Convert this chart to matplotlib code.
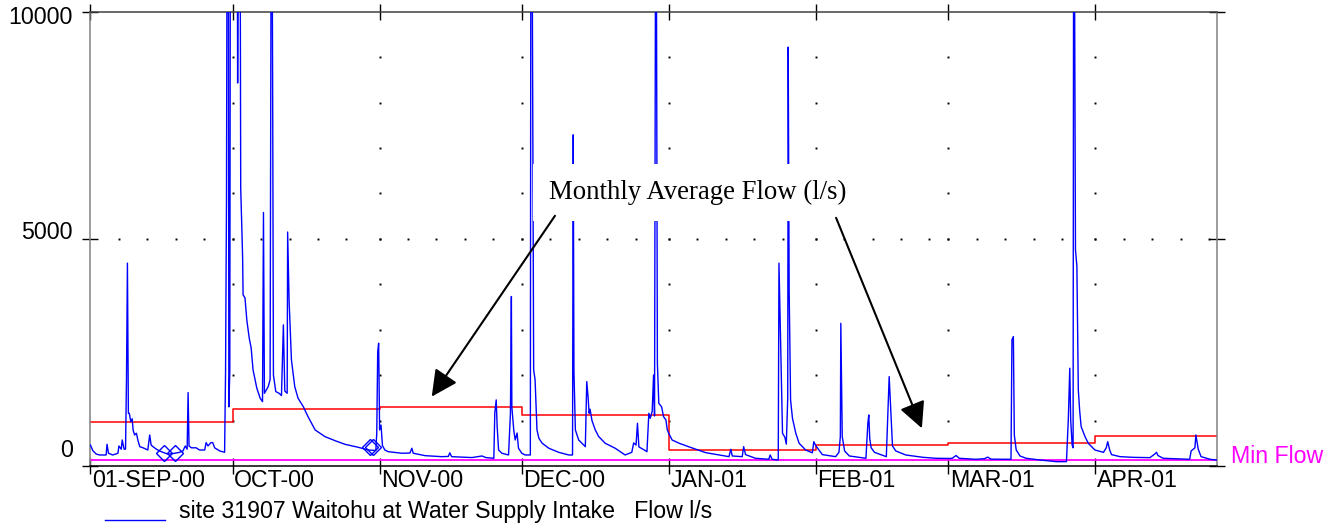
"""Waitohu at Water Supply Intake: flow record Sep 2000 - Apr 2001,
with monthly average flow steps and the minimum flow line."""

from datetime import datetime, timedelta

import matplotlib
matplotlib.use("Agg")
import matplotlib.dates as mdates
import matplotlib.pyplot as plt
import numpy as np
from matplotlib.transforms import ScaledTranslation

plt.rcParams["font.family"] = ["Liberation Sans", "DejaVu Sans"]

START = datetime(2000, 9, 1)
END_DAYS = 237.6          # record shown up to ~27-Apr-01

# --- flow record: days since 01-Sep-2000 and flow (l/s) ---
flow_days = [
    0.0, 0.5, 1.2, 1.9, 3.3, 3.5, 3.8, 4.7, 5.8, 6.0,
    6.5, 6.7, 7.1, 7.4, 7.6, 7.8, 8.0, 8.2, 8.5, 8.8,
    9.0, 9.3, 9.7, 10.0, 10.4, 11.1, 12.1, 12.5, 12.8, 13.2,
    13.9, 14.6, 15.3, 16.4, 17.8, 18.8, 19.5, 20.0, 20.4, 20.6,
    20.8, 21.3, 22.3, 23.0, 24.1, 24.4, 24.8, 25.4, 25.8, 26.2,
    27.3, 28.3, 28.5, 28.7, 28.8, 29.1, 29.2, 29.4, 29.5, 31.0,
    31.05, 31.15, 31.6, 31.7, 32.1, 32.2, 32.6, 33.0, 33.5, 33.9,
    34.3, 35.1, 35.8, 36.3, 36.5, 36.7, 37.5, 37.9, 38.1, 38.35,
    38.45, 38.6, 39.1, 39.8, 40.3, 40.7, 41.0, 41.5, 41.6, 41.9,
    42.4, 43.1, 43.8, 44.9, 45.9, 47.4, 49.5, 51.6, 53.7, 56.5,
    58.6, 60.2, 60.4, 60.6, 60.8, 61.0, 61.3, 61.6, 62.1, 62.8,
    65.7, 67.4, 67.8, 68.1, 70.6, 74.1, 75.5, 75.8, 76.2, 79.0,
    80.5, 82.6, 83.4, 85.1, 85.3, 85.6, 85.8, 86.1, 86.8, 88.2,
    88.6, 88.8, 88.9, 89.3, 89.6, 90.0, 90.3, 91.0, 91.7, 92.8,
    92.9, 93.2, 93.5, 93.8, 94.2, 94.6, 95.3, 96.7, 98.8, 100.9,
    101.7, 101.85, 102.0, 102.3, 103.0, 104.4, 104.7, 105.0, 105.2, 105.4,
    105.8, 106.5, 107.2, 108.6, 110.7, 112.8, 114.2, 114.6, 115.1, 115.4,
    115.7, 116.7, 117.4, 117.8, 118.1, 118.5, 118.8, 119.0, 119.2, 119.4,
    119.6, 119.9, 120.5, 120.9, 121.4, 121.7, 122.0, 122.7, 124.2, 126.3,
    129.8, 134.7, 135.1, 135.4, 137.5, 137.8, 138.2, 140.3, 143.1, 143.4,
    143.8, 145.1, 145.25, 145.5, 145.7, 146.0, 146.5, 146.8, 147.1, 147.2,
    147.4, 147.7, 148.1, 148.8, 149.5, 150.9, 152.3, 152.6, 153.0, 154.4,
    157.2, 157.9, 158.2, 158.3, 158.6, 159.1, 160.1, 163.6, 164.0, 164.2,
    164.4, 164.7, 165.4, 167.9, 168.2, 168.5, 168.9, 169.2, 169.9, 172.0,
    175.6, 178.4, 181.2, 181.8, 182.6, 183.3, 186.8, 188.6, 189.3, 190.0,
    194.2, 194.4, 194.7, 194.9, 195.3, 196.1, 197.4, 200.3, 203.8, 205.9,
    206.3, 206.6, 206.8, 207.1, 207.3, 207.4, 207.6, 207.8, 208.1, 208.4,
    208.7, 209.0, 209.8, 210.5, 211.9, 213.7, 214.3, 214.6, 215.0, 215.4,
    217.2, 220.0, 223.5, 224.5, 224.9, 225.2, 226.3, 231.9, 232.2, 233.0,
    233.2, 233.7, 234.3, 236.2, 237.5,
]
flow_ls = [
    460, 337, 264, 242, 242, 477, 280, 242, 280, 440,
    370, 572, 370, 370, 1892, 4465, 1160, 1160, 976, 1040,
    793, 683, 720, 572, 425, 400, 352, 683, 460, 425,
    370, 330, 300, 260, 280, 300, 330, 440, 370, 1615,
    440, 400, 400, 352, 352, 514, 440, 514, 514, 400,
    330, 301, 2040, 5860, 11000, 11000, 1300, 2100, 11000, 11000,
    8430, 11000, 11000, 6120, 4610, 3767, 3700, 3200, 2813, 2600,
    2115, 1712, 1491, 1416, 5580, 1600, 1747, 1900, 11000, 11000,
    7865, 2000, 1637, 1600, 1550, 3106, 1650, 1600, 5150, 3657,
    2335, 1747, 1491, 1306, 1086, 793, 645, 557, 477, 411,
    352, 340, 720, 2518, 2703, 793, 900, 450, 352, 315,
    280, 285, 390, 280, 227, 205, 210, 290, 205, 191,
    185, 220, 185, 169, 1160, 1454, 866, 352, 280, 242,
    1160, 3730, 1300, 793, 572, 726, 390, 280, 242, 242,
    11000, 11000, 2115, 1900, 793, 610, 500, 390, 300, 242,
    242, 7290, 2078, 793, 572, 425, 1857, 1491, 1160, 1250,
    1000, 793, 650, 500, 390, 242, 300, 508, 460, 940,
    420, 360, 315, 1160, 1050, 1200, 2003, 1100, 11000, 11000,
    2260, 1380, 1300, 1086, 1013, 793, 720, 572, 500, 420,
    293, 205, 367, 220, 205, 425, 250, 169, 147, 242,
    147, 132, 4465, 3216, 2187, 720, 630, 480, 1500, 9220,
    3877, 1454, 1050, 720, 500, 350, 290, 535, 450, 250,
    205, 300, 645, 3140, 645, 330, 220, 169, 940, 1123,
    600, 400, 300, 205, 1086, 1967, 1086, 440, 330, 242,
    191, 169, 165, 170, 230, 169, 147, 160, 195, 150,
    147, 2776, 2849, 683, 352, 220, 169, 132, 95, 95,
    1050, 2152, 1000, 462, 400, 11000, 11000, 4758, 4400, 1674,
    1200, 866, 650, 500, 352, 300, 400, 535, 360, 250,
    205, 190, 183, 260, 301, 230, 169, 147, 330, 400,
    683, 370, 205, 147, 132,
]

# --- gaugings (diamonds) ---
gauge_days = [15.6, 17.8, 59.0, 59.7]
gauge_ls = [285, 285, 425, 425]

# --- monthly averages ---
month_starts = [datetime(2000, 9, 1), datetime(2000, 10, 1),
                datetime(2000, 11, 1), datetime(2000, 12, 1),
                datetime(2001, 1, 1), datetime(2001, 2, 1),
                datetime(2001, 3, 1), datetime(2001, 4, 1)]
month_labels = ["01-SEP-00", "OCT-00", "NOV-00", "DEC-00",
                "JAN-01", "FEB-01", "MAR-01", "APR-01"]
month_avg = [963, 1256, 1300, 1117, 346, 463, 507, 661]

MIN_FLOW = 130

# annotation anchor points (days, l/s)
LABEL_AT = (128.1, 6014)
ARROW_TAILS = [(98.0, 5508), (157.3, 5463)]
ARROW_TIPS = [(72.0, 1527), (175.4, 830)]

BLUE = "#0000ff"
RED = "#ff0000"
MAGENTA = "#ff00ff"
FS = 16.7

x0 = mdates.date2num(START)
x_end = x0 + END_DAYS

fig = plt.figure(figsize=(13.4, 5.27), dpi=100)
ax = fig.add_axes([0.0675, 0.1158, 0.8405, 0.862])

# --- dotted grid: dots at month starts every 1000 l/s, and along 5000 ---
grid_x, grid_y = [], []
for m in month_starts[1:]:
    for v in range(1000, 10000, 1000):
        grid_x.append(mdates.date2num(m))
        grid_y.append(v)
day = START
while mdates.date2num(day) < x_end:
    if day.day in (1, 7, 13, 19, 25) and day != START:
        grid_x.append(mdates.date2num(day))
        grid_y.append(5000)
    day += timedelta(days=1)
ax.plot(grid_x, grid_y, "s", color="black", ms=1.4, mew=0, zorder=1)

# --- series ---
flow_line, = ax.plot(x0 + np.array(flow_days), flow_ls, color=BLUE,
                     lw=1.0, zorder=3)
ax.plot(x0 + np.array(gauge_days), gauge_ls, "D", ms=8, mfc="none",
        mec=BLUE, mew=1.0, zorder=4)
step_x = list(mdates.date2num(month_starts)) + [x_end]
ax.step(step_x, month_avg + [month_avg[-1]], where="post", color=RED,
        lw=1.1, zorder=2)
ax.axhline(MIN_FLOW, color=MAGENTA, lw=1.3, zorder=2)

ax.set_xlim(x0, x_end)
ax.set_ylim(0, 10000)

# --- axes styling ---
ax.set_xticks(mdates.date2num(month_starts))
ax.set_xticklabels(month_labels, ha="left")
ax.set_yticks([0, 5000, 10000])
ax.set_yticklabels(["0", "5000", "10000"])
ax.tick_params(axis="both", direction="inout", length=11, width=1.0,
               labelsize=FS, top=True, right=True, labeltop=False,
               labelright=False, colors="black")
ax.tick_params(axis="x", pad=-3)
ax.tick_params(axis="y", pad=7)

for lab, dy in zip(ax.get_yticklabels(), [11.5, 4.3, -4.3]):
    lab.set_va("center")
    lab.set_transform(lab.get_transform()
                      + ScaledTranslation(0, dy / 72, fig.dpi_scale_trans))
for lab in ax.get_xticklabels():
    lab.set_transform(lab.get_transform()
                      + ScaledTranslation(1.2 / 72, 0, fig.dpi_scale_trans))

ax.spines["left"].set_color("#808080")
ax.spines["right"].set_color("#808080")
ax.spines["top"].set_color("#404040")
ax.spines["bottom"].set_color("black")
for s in ax.spines.values():
    s.set_linewidth(1.1)

# --- annotation ---
ax.text(x0 + LABEL_AT[0], LABEL_AT[1], "Monthly Average Flow (l/s)",
        family="Liberation Serif", fontsize=19.3, ha="center", va="center",
        bbox=dict(boxstyle="square,pad=0.6", fc="white", ec="none"),
        zorder=5)
for (td, tv), (hd, hv) in zip(ARROW_TAILS, ARROW_TIPS):
    ax.annotate("", xy=(x0 + hd, hv), xytext=(x0 + td, tv),
                arrowprops=dict(arrowstyle="-|>", mutation_scale=40, lw=1.5,
                                color="black", shrinkA=0, shrinkB=0),
                zorder=6)

ax.annotate("Min Flow", xy=(1, MIN_FLOW), xycoords=("axes fraction", "data"),
            xytext=(10, 2.5), textcoords="offset points", color=MAGENTA,
            fontsize=FS, ha="left", va="center")

# --- legend below the axis ---
leg = fig.legend([flow_line],
                 ["site 31907 Waitohu at Water Supply Intake   Flow l/s"],
                 loc="center left", bbox_to_anchor=(0.0784, 0.0285),
                 frameon=False, fontsize=FS, handlelength=2.6,
                 handletextpad=0.6, borderpad=0, borderaxespad=0)
for ln in leg.get_lines():
    ln.set_ydata(np.asarray(ln.get_ydata()) - 7)

fig.savefig("out.png", dpi=100)
plt.close(fig)
